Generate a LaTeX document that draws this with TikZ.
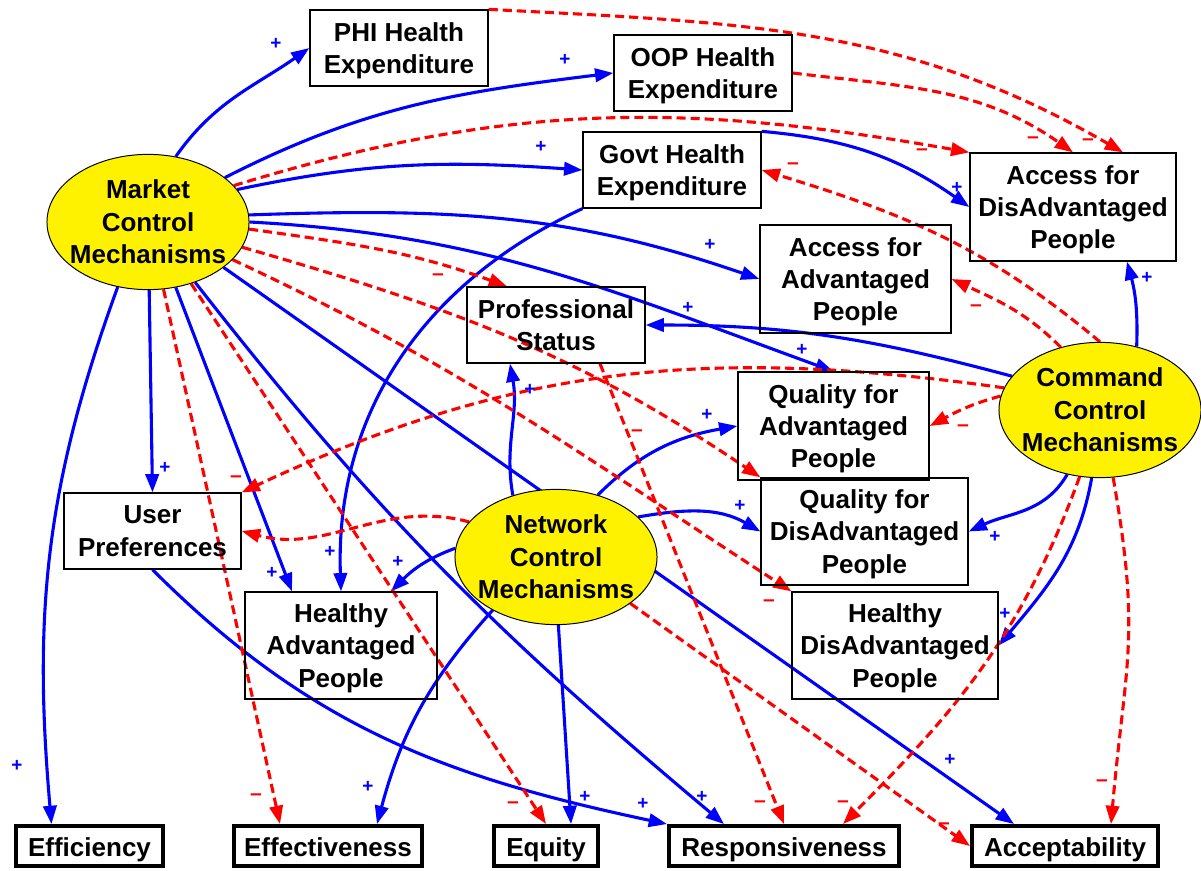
\documentclass[tikz,border=0pt]{standalone}
\usepackage{fontspec}
\setmainfont{Liberation Sans}
\usetikzlibrary{arrows.meta, shapes.geometric, calc, backgrounds}

\tikzset{
  box/.style={draw, line width=0.9pt, align=center, inner sep=0pt, text depth=0pt,
    font=\fontsize{18.5}{23}\selectfont\bfseries},
  goal/.style={box, line width=2.8pt, minimum height=1.0cm, text height=15.5pt},
  mech/.style={ellipse, draw, line width=0.7pt, fill=yellow, inner sep=0pt,
    minimum width=5.05cm, minimum height=3.38cm},
  mechtext/.style={align=center, font=\fontsize{18.5}{23}\selectfont\bfseries},
  poslink/.style={blue, line width=2.2pt, -{Triangle[length=13pt, width=9.5pt]}},
  neglink/.style={poslink, red, dash pattern=on 6.5pt off 3.5pt},
  plus/.style={text=blue, font=\fontsize{13.5}{13.5}\selectfont\bfseries, inner sep=0pt},
  minus/.style={plus, text=red, font=\fontsize{15}{15}\selectfont\bfseries},
}

\begin{document}
\begin{tikzpicture}[x=0.025cm, y=-0.025cm]
    \useasboundingbox (0,0) rectangle (1201,870);

    % funding and intermediate boxes
    \node[box, minimum width=4.45cm, minimum height=1.9cm] (PHI) at (399,48) {PHI Health\\Expenditure};
    \node[box, minimum width=4.45cm, minimum height=1.9cm] (OOP) at (703,73) {OOP Health\\Expenditure};
    \node[box, minimum width=4.45cm, minimum height=1.9cm] (Govt) at (672,170) {Govt Health\\Expenditure};
    \node[box, minimum width=5.15cm, minimum height=2.7cm] (AccDis) at (1073,207) {Access for\\DisAdvantaged\\People};
    \node[box, minimum width=4.775cm, minimum height=2.7cm] (AccAdv) at (855.5,279) {Access for\\Advantaged\\People};
    \node[box, minimum width=4.45cm, minimum height=1.9cm] (Prof) at (556,325) {Professional\\Status};
    \node[box, minimum width=4.775cm, minimum height=2.7cm] (QualAdv) at (833.5,426) {Quality for\\Advantaged\\People};
    \node[box, minimum width=5.175cm, minimum height=2.675cm] (QualDis) at (864.5,531.5) {Quality for\\DisAdvantaged\\People};
    \node[box, minimum width=4.425cm, minimum height=1.9cm] (UserPref) at (152.5,531) {User\\Preferences};
    \node[box, minimum width=4.8cm, minimum height=2.675cm] (HealthyAdv) at (341,645.5) {Healthy\\Advantaged\\People};
    \node[box, minimum width=5.15cm, minimum height=2.675cm] (HealthyDis) at (895,645.5) {Healthy\\DisAdvantaged\\People};

    % outcomes
    \node[goal, minimum width=3.675cm] (Efficiency) at (89.5,846) {Efficiency};
    \node[goal, minimum width=4.7cm] (Effectiveness) at (328,846) {Effectiveness};
    \node[goal, minimum width=2.6cm] (Equity) at (546,846) {Equity};
    \node[goal, minimum width=5.75cm] (Resp) at (784,846) {Responsiveness};
    \node[goal, minimum width=4.65cm] (Accept) at (1065,846) {Acceptability};

    % control mechanisms
    \node[mech, label={[name=Mtext, mechtext]center:Market\\Control\\Mechanisms}] (M) at (148,222) {};
    \node[mech, label={[name=Ntext, mechtext]center:Network\\Control\\Mechanisms}] (N) at (556,557) {};
    \node[mech, label={[name=Ctext, mechtext]center:Command\\Control\\Mechanisms}] (C) at (1100,410) {};

    % polarity signs
    \foreach \x/\y [count=\i] in {276/44, 565/60, 541/147, 957/188, 710/245, 688/308, 802/350,
        1147/278, 530/390, 707/415, 165/468, 740/506, 995/537, 330/552, 398/562, 272/573,
        1005/614, 17/766, 368/787, 585/797, 643/804, 702/797, 950/760}
        \node[plus] (p\i) at (\x,\y) {+};
    \foreach \x/\y [count=\i] in {793/166, 922/152, 1033/140, 1088/142, 976/308, 438/277, 963/428,
        236/479, 256/534, 637/433, 769/603, 256/797, 513/805, 760/804, 843/804, 944/826, 1102/783}
        \node[minus] (m\i) at (\x,\y) {\textendash};

    \begin{pgfonlayer}{background}
    % positive links
    \draw[poslink] (M.67) to[out=55, in=215] (PHI.west);
    \draw[poslink] (M.30) to[out=27, in=187] (OOP.west);
    \draw[poslink] (M.20) to[out=12, in=176] (Govt.west);
    \draw[poslink] (M.4) to[out=2, in=161] (AccAdv.west);
    \draw[poslink] (M.0) to[out=-3, in=160] (QualAdv.north);
    \draw[poslink] (M.-31) -- ($(Accept.north)+(-51,0)$);
    \draw[poslink] (M.-52) to[out=-52, in=140] ($(Resp.north)+(-60,0)$);
    \draw[poslink] (M.-67) -- ($(HealthyAdv.north)+(-49,0)$);
    \draw[poslink] (M.-89) -- (UserPref.north);
    \draw[poslink] (M.-115) to[out=-110, in=95] ($(Efficiency.north)+(-38,0)$);
    \draw[poslink] (Govt.south west) to[out=205, in=92] (HealthyAdv.north);
    \draw[poslink] (Govt.north east) to[out=-5, in=145] (AccDis.west);
    \draw[poslink] (C.60) to[out=88, in=-75] ($(AccDis.south)+(54,0)$);
    \draw[poslink] (C.159) to[out=165, in=0] (Prof.east);
    \draw[poslink] (C.-117) to[out=-120, in=25] (QualDis.east);
    \draw[poslink] (C.-97) to[out=-100, in=50] (HealthyDis.east);
    \draw[poslink] (N.125) to[out=100, in=-80] ($(Prof.south)+(-46,0)$);
    \draw[poslink] (N.56) to[out=45, in=190] (QualAdv.west);
    \draw[poslink] (N.26) to[out=10, in=150] (QualDis.west);
    \draw[poslink] (N.175) to[out=200, in=45] ($(HealthyAdv.north)+(50,0)$);
    \draw[poslink] (N.-140) to[out=228, in=75] ($(Effectiveness.north)+(49,0)$);
    \draw[poslink] (N.-88) -- ($(Equity.north)+(25,0)$);
    \draw[poslink] (UserPref.south) to[out=-45, in=168] (Resp.north west);

    % negative links
    \draw[neglink] (M.23) to[out=17, in=170] (AccDis.north west);
    \draw[neglink] (M.-4) to[out=-8, in=160] ($(Prof.north)+(-49,0)$);
    \draw[neglink] (M.-15) to[out=-16, in=146] (QualDis.north west);
    \draw[neglink] (M.-24) to[out=-25, in=147] (HealthyDis.north west);
    \draw[neglink] (M.-55) -- (Equity.north);
    \draw[neglink] (M.-77) -- ($(Effectiveness.north)+(-48,0)$);
    \draw[neglink] (PHI.north east) to[out=-3, in=150] ($(AccDis.north)+(50,0)$);
    \draw[neglink] (OOP.east) to[out=-7, in=145] (AccDis.north);
    \draw[neglink] (C.90) to[out=140, in=-17] (Govt.east);
    \draw[neglink] (C.122) to[out=135, in=-25] (AccAdv.east);
    \draw[neglink] (C.167) to[out=172, in=25] (UserPref.north east);
    \draw[neglink] (C.172) to[out=195, in=28] (QualAdv.east);
    \draw[neglink] (C.-107) to[out=-110, in=45] ($(Resp.north)+(59,0)$);
    \draw[neglink] (C.-79) to[out=-80, in=85, looseness=1.2] ($(Accept.north)+(46,0)$);
    \draw[neglink] (N.158) to[out=165, in=-15] (UserPref.east);
    \draw[neglink] (N.-32) -- (Accept.west);
    \draw[neglink] ($(Prof.south)+(44,0)$) -- (Resp.north);
    \end{pgfonlayer}
\end{tikzpicture}
\end{document}
